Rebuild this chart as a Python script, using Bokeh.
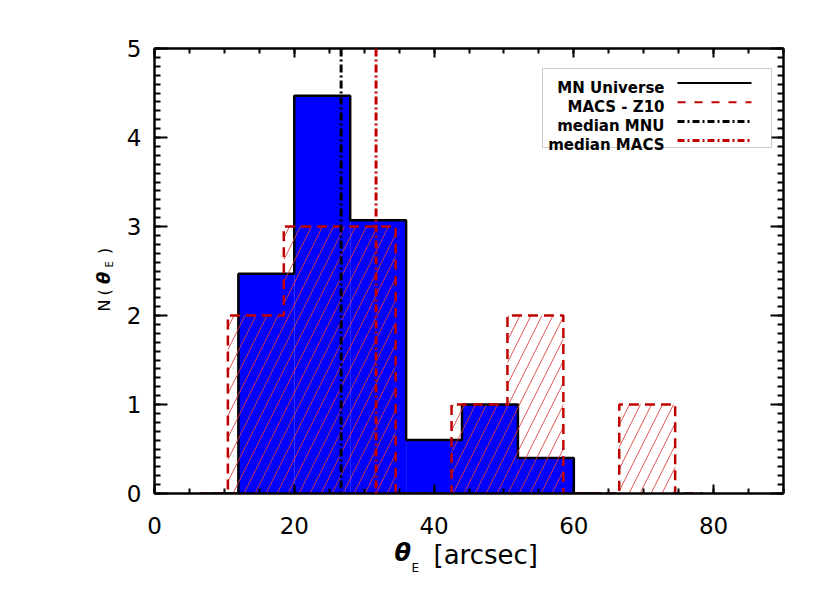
import numpy as np
from bokeh.plotting import figure
from bokeh.models import (FixedTicker, LinearAxis, Range1d, Span, Label, Arrow,
                          BoxAnnotation, Title)
from bokeh.embed import file_html
from bokeh.resources import INLINE

# ---------------- data ----------------
mnu_edges = [12, 20, 28, 36, 44, 52, 60]
mnu_counts = [2.47, 4.47, 3.07, 0.60, 1.00, 0.40]
macs_edges = [10.5, 18.5, 26.5, 34.5, 42.5, 50.5, 58.5, 66.5, 74.5]
macs_counts = [2, 3, 3, 0, 1, 2, 0, 1]
median_mnu = 26.7
median_macs = 31.7
x_ticks = [0, 20, 40, 60, 80]
x_minor = list(range(0, 91, 5))
y_ticks = [0, 1, 2, 3, 4, 5]
y_minor = [round(0.1 * i, 1) for i in range(0, 51)]
legend_labels = ["MN Universe", "MACS - Z10", "median MNU", "median MACS"]
x_label_parts = ["\u03b8", "E", "[arcsec]"]
y_label_parts = ["N", "(", "\u03b8", "E", ")"]

RED = "#c00000"
FONT = "DejaVu Sans"


def step_path(edges, counts):
    e = np.asarray(edges, dtype=float)
    c = np.asarray(counts, dtype=float)
    w = e[1] - e[0]
    xs = [e[0] - w / 2, e[0]]
    ys = [0.0, 0.0]
    for i in range(len(c)):
        xs += [e[i], e[i + 1]]
        ys += [c[i], c[i]]
    xs += [e[-1], e[-1] + w / 2]
    ys += [0.0, 0.0]
    return xs, ys


p = figure(frame_width=629, frame_height=445,
           x_range=Range1d(0, 90), y_range=Range1d(0, 5),
           output_backend="svg", toolbar_location=None,
           min_border_left=154, min_border_top=48,
           min_border_right=44, min_border_bottom=95,
           background_fill_color="white", border_fill_color="white")
p.outline_line_color = None
p.grid.visible = False

p.add_layout(LinearAxis(), "above")
p.add_layout(LinearAxis(), "right")


def style_axis(ax, ticks, minor, major_len, minor_len, labels):
    ax.ticker = FixedTicker(ticks=ticks, minor_ticks=minor)
    ax.axis_line_width = 2.5
    ax.axis_line_color = "black"
    ax.major_tick_line_width = 2
    ax.minor_tick_line_width = 2
    ax.major_tick_in = major_len
    ax.major_tick_out = 0
    ax.minor_tick_in = minor_len
    ax.minor_tick_out = 0
    ax.major_label_text_font = FONT
    ax.major_label_text_font_size = "23px"
    ax.major_label_text_color = "black"
    if not labels:
        ax.major_label_overrides = {t: "" for t in ticks}


style_axis(p.below[0], x_ticks, x_minor, 9, 5, True)
style_axis(p.above[0], x_ticks, x_minor, 9, 5, False)
style_axis(p.left[0], y_ticks, y_minor, 13, 6, True)
style_axis(p.right[0], y_ticks, y_minor, 13, 6, False)
p.below[0].major_label_standoff = 23
p.left[0].major_label_standoff = 13

# ---------------- histograms ----------------
p.quad(left=mnu_edges[:-1], right=mnu_edges[1:], bottom=0, top=mnu_counts,
       fill_color="#0000ff", line_color=None)
bx, by = step_path(mnu_edges, mnu_counts)
p.line(bx, by, line_color="black", line_width=2.5)

p.quad(left=macs_edges[:-1], right=macs_edges[1:], bottom=0, top=macs_counts,
       fill_color=None, line_color=None, hatch_pattern="/",
       hatch_color="#e03c3c", hatch_alpha=0.85, hatch_scale=22, hatch_weight=1)
rx, ry = step_path(macs_edges, macs_counts)
p.line(rx, ry, line_color=RED, line_width=2.5, line_dash="10 6")

p.add_layout(Span(location=median_mnu, dimension="height", line_color="black",
                  line_width=3, line_dash="8 3 2 3"))
p.add_layout(Span(location=median_macs, dimension="height", line_color=RED,
                  line_width=3, line_dash="8 3 2 3"))

# ---------------- legend (label left, sample right) ----------------
p.add_layout(BoxAnnotation(left=388, right=617, top=425, bottom=346,
                           left_units="screen", right_units="screen",
                           top_units="screen", bottom_units="screen",
                           fill_color="white", fill_alpha=1.0,
                           line_color="#555555", line_width=1))
leg_styles = [("black", None), (RED, "8 9"), ("black", "7 3 2 3"), (RED, "7 3 2 3")]
leg_widths = [2, 2, 3, 3]
for i, (lab, (col, dash)) in enumerate(zip(legend_labels, leg_styles)):
    base = 406 - 19.2 * i
    p.add_layout(Label(x=510, y=base, x_units="screen", y_units="screen",
                       text=lab, text_align="right", text_baseline="alphabetic",
                       text_font=FONT, text_font_size="15px",
                       text_font_style="bold", text_color="black"))
    kw = dict(line_color=col, line_width=leg_widths[i])
    if dash:
        kw["line_dash"] = dash
    p.add_layout(Arrow(end=None, x_start=523, y_start=base + 4.5,
                       x_end=597, y_end=base + 4.5,
                       start_units="screen", end_units="screen", **kw))


# ---------------- axis titles (mixed styles, as side-panel titles) ----------------
def add_title(text, side, offset, standoff, size, style="normal"):
    p.add_layout(Title(text=text, align="left", vertical_align="top",
                       offset=offset, standoff=standoff,
                       text_font=FONT, text_font_size=size,
                       text_font_style=style, text_color="black"), side)


add_title(x_label_parts[0], "below", 240, 4.4, "24px", "bold italic")
add_title(x_label_parts[1], "below", 257, -18.8, "12px")
add_title(x_label_parts[2], "below", 279, -60.8, "26px")

add_title(y_label_parts[0], "left", 182, -57.9, "16px")
add_title(y_label_parts[1], "left", 198, -57.9, "16px")
add_title(y_label_parts[2], "left", 209.5, -61.6, "18px", "bold italic")
add_title(y_label_parts[3], "left", 226, -39.8, "10px")
add_title(y_label_parts[4], "left", 239.5, -57.9, "16px")

open("out.html", "w").write(file_html(p, INLINE))
